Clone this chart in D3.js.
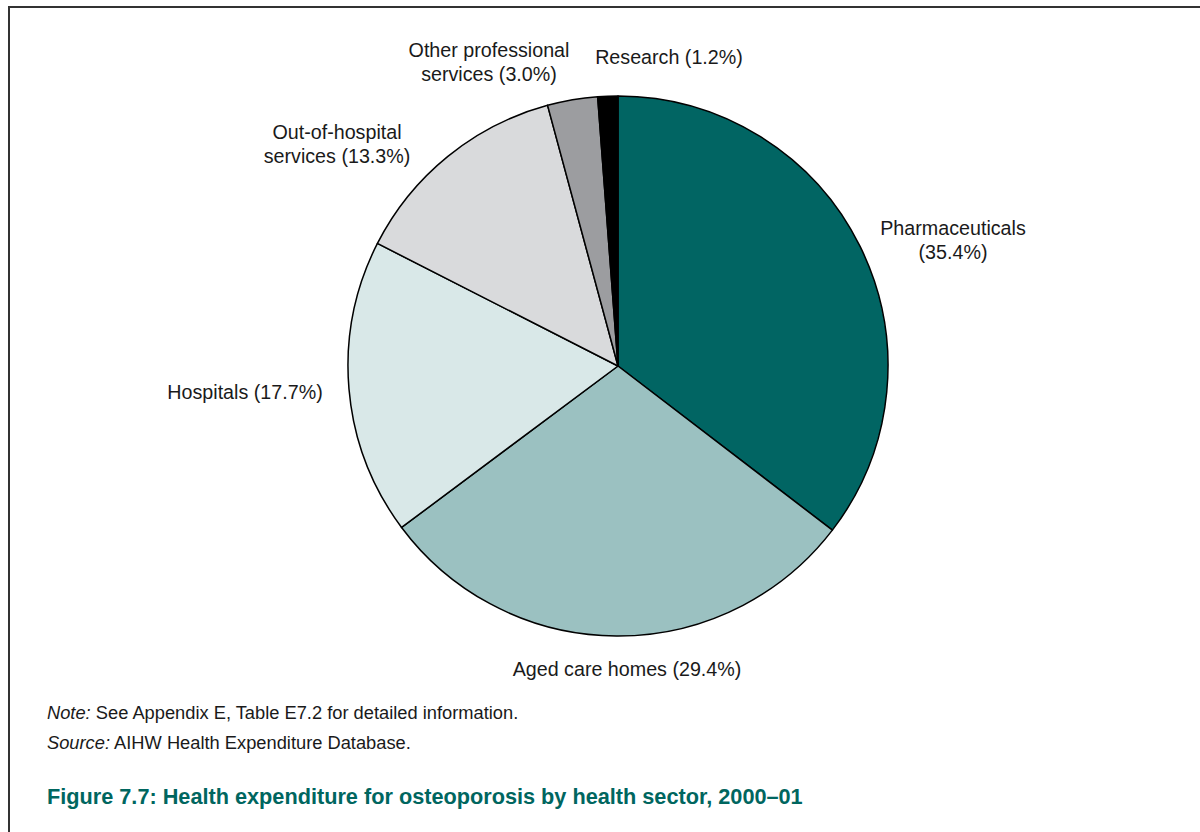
<!DOCTYPE html>
<html>
<head>
<meta charset="utf-8">
<script src="https://cdn.jsdelivr.net/npm/d3@7"></script>
<style>
  html, body { margin: 0; padding: 0; background: #fff; }
  svg { display: block; }
  text { font-family: "Liberation Sans", Arial, sans-serif; fill: #1a1a1a; }
</style>
</head>
<body>
<svg id="chart" width="1200" height="832"></svg>
<script>
// Health expenditure for osteoporosis by sector, 2000–01 (per cent of total)
const sectors = ["Pharmaceuticals", "Aged care homes", "Hospitals", "Out-of-hospital services", "Other professional services", "Research"];
const shares = [35.4, 29.4, 17.7, 13.3, 3.0, 1.2];
const labelLines = [
  ["Pharmaceuticals", "(35.4%)"],
  ["Aged care homes (29.4%)"],
  ["Hospitals (17.7%)"],
  ["Out-of-hospital", "services (13.3%)"],
  ["Other professional", "services (3.0%)"],
  ["Research (1.2%)"]
];
const sliceColours = ["#016563", "#9bc1c1", "#d9e8e8", "#d9dadc", "#9c9da0", "#000000"];

// Label anchors (first-line baseline), offset from the pie centre (px)
const labelOffsets = [
  [335, -131], [9, 310], [-373, 33], [-281, -227], [-129, -309], [51, -302]
];

const svg = d3.select("#chart");
const cx = 618, cy = 366, radius = 270;

// frame lines
svg.append("line").attr("x1", 8).attr("x2", 1200).attr("y1", 7).attr("y2", 7)
  .attr("stroke", "#333").attr("stroke-width", 2);
svg.append("line").attr("x1", 9).attr("x2", 9).attr("y1", 6).attr("y2", 832)
  .attr("stroke", "#333").attr("stroke-width", 2);

const pie = d3.pie().sort(null).value(d => d);
const arcs = pie(shares);
const arc = d3.arc().innerRadius(0).outerRadius(radius);

const g = svg.append("g").attr("transform", `translate(${cx},${cy})`);
g.selectAll("path.slice").data(arcs).join("path")
  .attr("class", "slice")
  .attr("d", arc)
  .attr("fill", (d, i) => sliceColours[i])
  .attr("stroke", "#000")
  .attr("stroke-width", 1.5)
  .attr("stroke-linejoin", "round");

const lineH = 24;
const labels = g.selectAll("text.lbl").data(arcs).join("text")
  .attr("class", "lbl")
  .attr("text-anchor", "middle")
  .attr("font-size", 19.7)
  .attr("transform", (d, i) => `translate(${labelOffsets[i][0]},${labelOffsets[i][1]})`);
labels.each(function(d, i) {
  const t = d3.select(this);
  labelLines[i].forEach((ln, k) => {
    t.append("tspan").attr("x", 0).attr("y", k * lineH).text(ln);
  });
});

// note, source and caption
const note = svg.append("text").attr("x", 47).attr("y", 719).attr("font-size", 18.3);
note.append("tspan").attr("font-style", "italic").text("Note:");
note.append("tspan").text(" See Appendix E, Table E7.2 for detailed information.");
const src = svg.append("text").attr("x", 47).attr("y", 749).attr("font-size", 18.3);
src.append("tspan").attr("font-style", "italic").text("Source:");
src.append("tspan").text(" AIHW Health Expenditure Database.");

svg.append("text").attr("x", 47).attr("y", 804)
  .attr("font-size", 21.7).attr("font-weight", "bold")
  .style("fill", "#00665f")
  .text("Figure 7.7: Health expenditure for osteoporosis by health sector, 2000–01");
</script>
</body>
</html>
